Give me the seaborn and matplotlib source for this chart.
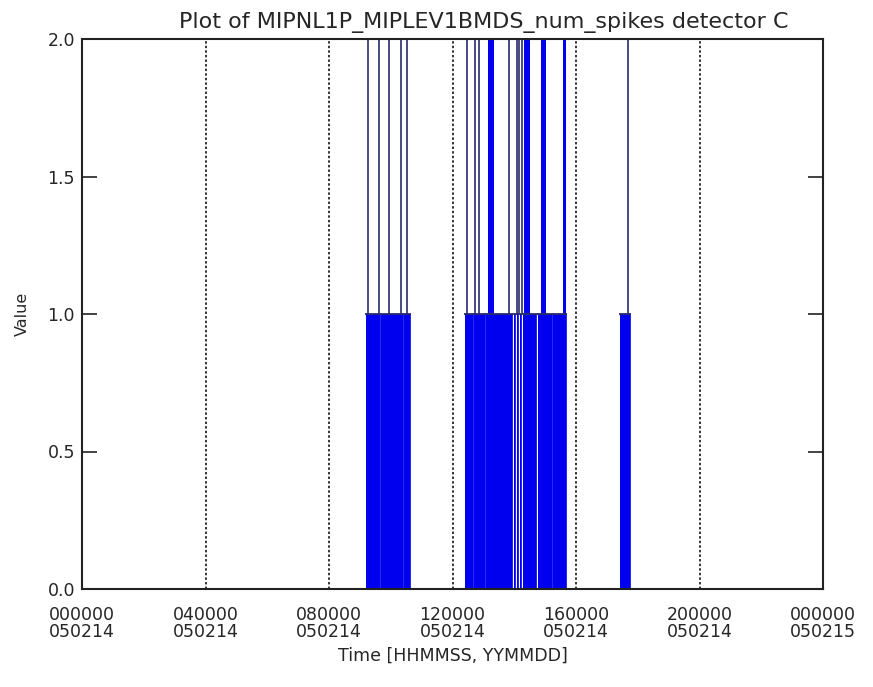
import numpy as np
import pandas as pd
import matplotlib
matplotlib.use("Agg")
import matplotlib.pyplot as plt
import seaborn as sns

# blocks where num_spikes sits at 1 (hours of day, 2005-02-14)
seg_start = [9.20, 9.70, 10.44,
             12.40, 12.71, 13.10, 13.985, 14.085, 14.175, 14.275, 14.77, 15.27,
             17.43]
seg_end = [9.645, 10.385, 10.62,
           12.655, 13.045, 13.935, 14.035, 14.125, 14.225, 14.715, 15.215, 15.68,
           17.75]
# single readings that shoot up to 2 (and beyond the plot range)
spike_times = [9.25, 9.62, 9.95, 10.33, 10.52, 12.46, 12.73, 12.87,
               13.83, 14.09, 14.16, 14.24, 17.67]
# bursts of dense spikes
burst_start = [13.16, 14.33, 14.87, 15.59]
burst_end = [13.35, 14.51, 15.02, 15.67]

tick_hours = [0, 4, 8, 12, 16, 20, 24]
tick_labels = ["000000\n050214", "040000\n050214", "080000\n050214", "120000\n050214",
               "160000\n050214", "200000\n050214", "000000\n050215"]
grid_hours = [4, 8, 12, 16, 20]

sns.set_style("white")
plt.rcParams['font.family'] = ['DejaVu Sans']

fig = plt.figure(figsize=(8.73, 6.87), dpi=100)
ax = fig.add_axes([82/873, 98/687, 741/873, 550/687])

fill_col = "#0000ee"
line_col = "#2b2b6e"

# step outline of the value-1 blocks
t, v = [], []
for s, e in zip(seg_start, seg_end):
    t += [s, s, e, e]
    v += [0, 1, 1, 0]
df = pd.DataFrame({"time": t, "value": v})
ax.fill_between(df["time"], df["value"], 0, color=fill_col, linewidth=0)
sns.lineplot(data=df, x="time", y="value", estimator=None, sort=False,
             color=fill_col, linewidth=0.6, ax=ax)
ax.hlines([1] * len(seg_start), np.array(seg_start) - 0.04, np.array(seg_end) + 0.04,
          color=line_col, linewidth=1.3)

ax.vlines(spike_times, 1, 2.2, color=line_col, linewidth=1.2)
ax.bar(burst_start, 1.2, width=np.array(burst_end) - np.array(burst_start),
       bottom=1, align="edge", color=fill_col, linewidth=0)

for h in grid_hours:
    ax.axvline(h, color="black", linewidth=1.1, linestyle=(0, (1.6, 1.4)))

ax.set_xlim(0, 24)
ax.set_ylim(0, 2)
ax.set_xticks(tick_hours)
ax.set_xticklabels(tick_labels, fontsize=12.5, linespacing=0.95)
ax.set_yticks([0, 0.5, 1.0, 1.5, 2.0])
ax.set_yticklabels(["0.0", "0.5", "1.0", "1.5", "2.0"], fontsize=12.5)
ax.tick_params(axis="x", length=0, pad=12)
ax.tick_params(axis="y", direction="in", length=11, width=1.2, pad=5,
               left=True, right=True, color="#222222")
for sp in ax.spines.values():
    sp.set_color("#222222")
    sp.set_linewidth(1.5)

ax.set_xlabel("Time [HHMMSS, YYMMDD]", fontsize=12.5, labelpad=4)
ax.set_ylabel("Value", fontsize=11.5, labelpad=13)
fig.text(484/873, 1 - 28/687, "Plot of MIPNL1P_MIPLEV1BMDS_num_spikes detector C",
         fontsize=16, ha="center", va="baseline")

fig.savefig("out.png", dpi=100)
